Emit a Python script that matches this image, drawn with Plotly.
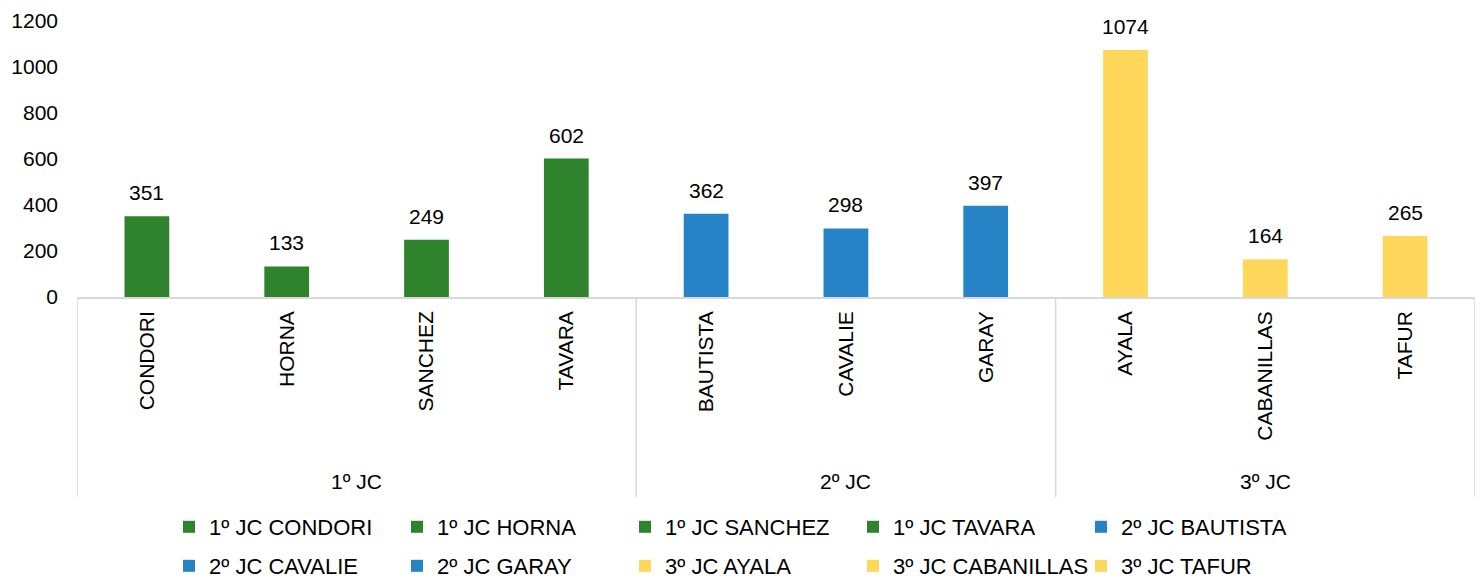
import plotly.graph_objects as go

groups = ["1º JC", "1º JC", "1º JC", "1º JC", "2º JC", "2º JC", "2º JC", "3º JC", "3º JC", "3º JC"]
names = ["CONDORI", "HORNA", "SANCHEZ", "TAVARA", "BAUTISTA", "CAVALIE", "GARAY", "AYALA", "CABANILLAS", "TAFUR"]
values = [351, 133, 249, 602, 362, 298, 397, 1074, 164, 265]
group_colors = {"1º JC": "#2E832C", "2º JC": "#2683C6", "3º JC": "#FFD75B"}
y_ticks = [0, 200, 400, 600, 800, 1000, 1200]

FONT = "Liberation Sans, Arial, sans-serif"
W, H = 1480, 581
fig = go.Figure()

legend_layouts = {}
col_x = [184, 412, 640, 868, 1096]   # left edge of legend swatch per column (px)
row_y = [527, 566]                   # legend row centres (px)
for i, (g, n, v) in enumerate(zip(groups, names, values)):
    lname = "legend" if i == 0 else f"legend{i + 1}"
    fig.add_trace(go.Bar(
        x=[n], y=[v], name=f"{g} {n}",
        marker=dict(color=group_colors[g], line=dict(width=0)),
        width=0.32,
        legend=lname,
        hoverinfo="skip",
    ))
    fig.add_annotation(x=n, y=v, text=str(v), showarrow=False, yanchor="bottom",
                       yshift=10, font=dict(family=FONT, size=21, color="#000000"))
    r, c = divmod(i, 5)
    legend_layouts[lname] = dict(
        orientation="h", xref="container", yref="container",
        x=(col_x[c] - 15) / W, xanchor="left",
        y=1 - row_y[r] / H, yanchor="middle",
        font=dict(family=FONT, size=22, color="#000000"),
        bgcolor="rgba(0,0,0,0)", borderwidth=0, itemclick=False, itemdoubleclick=False,
    )

# group labels and separators
uniq = []
for g in groups:
    if g not in uniq:
        uniq.append(g)
bounds = [-0.5]
for g in uniq:
    idx = [i for i, gg in enumerate(groups) if gg == g]
    center = (idx[0] + idx[-1]) / 2
    fig.add_annotation(x=center, xref="x", y=-0.67, yref="paper", text=g, showarrow=False,
                       yanchor="middle", font=dict(family=FONT, size=21, color="#000000"))
    bounds.append(idx[-1] + 0.5)
for b in bounds:
    fig.add_shape(type="line", xref="x", yref="paper", x0=b, x1=b, y0=0, y1=-0.725,
                  line=dict(color="#D9D9D9", width=1.5))

fig.update_layout(
    width=W, height=H,
    margin=dict(l=77, r=5, t=21, b=284, autoexpand=False),
    paper_bgcolor="white", plot_bgcolor="white",
    barmode="overlay",
    showlegend=True,
    font=dict(family=FONT, size=21, color="#000000"),
    xaxis=dict(
        categoryorder="array", categoryarray=names, range=[-0.5, 9.5],
        tickangle=-90, showline=True, linecolor="#D9D9D9", linewidth=1.5,
        showgrid=False, ticks="", ticklabelstandoff=4, automargin=False,
        tickfont=dict(family=FONT, size=21, color="#000000"),
    ),
    yaxis=dict(
        range=[0, 1200], tickvals=y_ticks, showgrid=False, zeroline=False,
        showline=False, ticks="", ticklabelstandoff=18, automargin=False,
        tickfont=dict(family=FONT, size=21, color="#000000"),
    ),
    **legend_layouts,
)

fig.write_html(
    "out.html",
    config={"displayModeBar": False, "staticPlot": False},
    post_script="document.body.style.margin='0';document.body.style.overflow='hidden';",
)
